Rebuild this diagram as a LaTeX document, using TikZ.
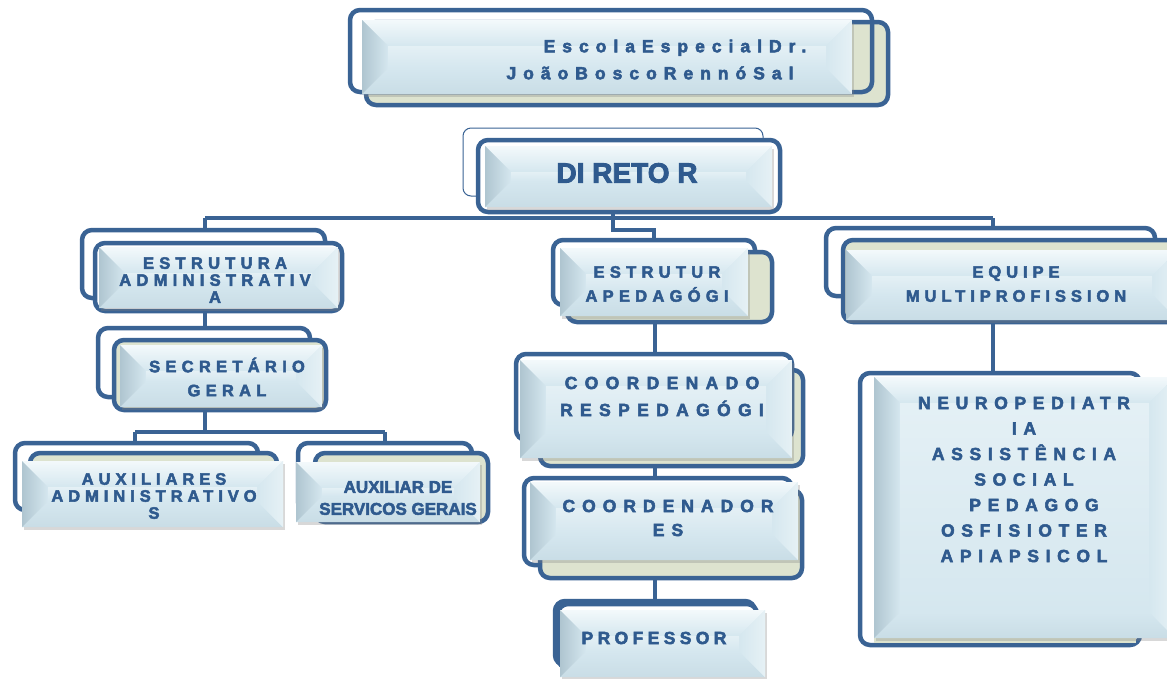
\documentclass[tikz,border=0pt]{standalone}
\usepackage{fontspec}
\setmainfont{Liberation Sans}
\usetikzlibrary{calc, shadows}
\definecolor{frameblue}{HTML}{3A6394}
\definecolor{txtblue}{HTML}{2F5A8E}
\definecolor{beige}{HTML}{DDE3CF}
\definecolor{bvmid}{HTML}{D5E7EF}
\definecolor{bvtop}{HTML}{F3F9FB}
\definecolor{bvleft}{HTML}{AFC5D0}
\definecolor{bvright}{HTML}{E6F1F5}
\definecolor{bvbot}{HTML}{C9DDE6}
\pgfdeclarelayer{backdrop}
\pgfdeclarelayer{wires}
\pgfsetlayers{backdrop,wires,main}
\newcommand{\lsp}[3]{\fontsize{#1}{#2}\selectfont\bfseries\addfontfeature{LetterSpace=#3,FakeBold=3}}
\tikzset{
  frame/.style={draw=frameblue, line width=4.5pt, rounded corners=10pt},
  thinframe/.style={draw=frameblue, line width=1pt, rounded corners=8pt},
  conn/.style={draw=frameblue, line width=4pt},
  bevel/.style={rectangle, inner sep=0pt, fill=bvmid,
    drop shadow={shadow xshift=2pt, shadow yshift=-3pt, opacity=.3},
    path picture={
      \coordinate (bA) at (path picture bounding box.north west);
      \coordinate (bB) at (path picture bounding box.north east);
      \coordinate (bC) at (path picture bounding box.south east);
      \coordinate (bD) at (path picture bounding box.south west);
      \shade[top color=bvtop, bottom color=bvmid] (bA) -- (bB) -- ($(bB)+(-26pt,-26pt)$) -- ($(bA)+(26pt,-26pt)$) -- cycle;
      \shade[top color=bvmid, bottom color=bvbot] (bD) -- (bC) -- ($(bC)+(-26pt,26pt)$) -- ($(bD)+(26pt,26pt)$) -- cycle;
      \shade[left color=bvleft, right color=bvmid] (bA) -- ($(bA)+(26pt,-26pt)$) -- ($(bD)+(26pt,26pt)$) -- (bD) -- cycle;
      \shade[left color=bvmid, right color=bvright] (bB) -- ($(bB)+(-26pt,-26pt)$) -- ($(bC)+(-26pt,26pt)$) -- (bC) -- cycle;
      \shade[top color=bvtop!50!bvmid, bottom color=bvmid] ($(bA)+(26pt,-26pt)$) rectangle ($(bC)+(-26pt,26pt)$);
    }},
  lbl/.style={text=txtblue, align=center, inner sep=0pt},
}
\begin{document}
\begin{tikzpicture}[x=1pt, y=-1pt]
\useasboundingbox (0,0) rectangle (1167,678);
\begin{pgfonlayer}{backdrop}
  \fill[white] (0,0) rectangle (1167,678);
\end{pgfonlayer}

% title
\draw[frame, fill=beige] (366,22) rectangle (888,105);
\draw[frame] (350,10) rectangle (872,92);
\node[bevel, minimum width=490, minimum height=74] (title) at (607,57) {};
\node[lbl, font=\lsp{17.5}{27}{40}] (ttitle) at (650,59.5) {\hspace*{50pt}EscolaEspecialDr.\\JoãoBoscoRennóSal};

% diretor
\draw[thinframe] (463,128) rectangle (763,196);
\draw[frame, fill=white] (478,140) rectangle (780,212);
\node[bevel, minimum width=287, minimum height=61] (dir) at (628.5,176.5) {};
\node[lbl, font=\lsp{28}{30}{0}] (tdir) at (627,173) {DI RETO R};

% estrutura administrativa
\draw[frame, fill=white] (82,230) rectangle (325,298);
\draw[frame, fill=white] (95,243) rectangle (342,311);
\node[bevel, minimum width=239, minimum height=61] (adm) at (218.5,277.5) {};
\node[lbl, font=\lsp{16.5}{17}{32}] (tadm) at (215,280) {ESTRUTURA\\ADMINISTRATIV\\A};

% estrutura pedagogica
\draw[frame, fill=white] (553,240) rectangle (755,305);
\draw[frame, fill=beige] (567,252) rectangle (772,322);
\node[bevel, minimum width=188, minimum height=68] (ped) at (654,282) {};
\node[lbl, font=\lsp{16.5}{24}{32}] (tped) at (657,284) {ESTRUTUR\\APEDAGÓGI};

% equipe
\draw[frame, fill=white] (826,228) rectangle (1155,296);
\draw[frame, fill=beige] (843,240) rectangle (1190,322);
\node[bevel, minimum width=332, minimum height=70] (equ) at (1012,285) {};
\node[lbl, font=\lsp{16.5}{24}{30}] (tequ) at (1016,284) {EQUIPE\\MULTIPROFISSION};

% secretario
\draw[frame, fill=white] (98,328) rectangle (310,397);
\draw[frame, fill=beige] (114,340) rectangle (326,410);
\node[bevel, minimum width=202, minimum height=62] (sec) at (221,376) {};
\node[lbl, font=\lsp{16.5}{24}{32}] (tsec) at (227,377) {SECRETÁRIO\\GERAL};

% auxiliares
\draw[frame, fill=white] (15,443) rectangle (258,510);
\draw[frame, fill=beige] (30,453) rectangle (277,520);
\node[bevel, minimum width=261, minimum height=66] (auxa) at (152.5,494) {};
\node[lbl, font=\lsp{16.5}{17}{30}] (tauxa) at (154,496) {AUXILIARES\\ADMINISTRATIVO\\S};

\draw[frame, fill=white] (298,443) rectangle (472,512);
\draw[frame, fill=beige] (315,453) rectangle (488,522);
\node[bevel, minimum width=184, minimum height=60] (auxs) at (388,492) {};
\node[lbl, font=\lsp{17}{22}{0}] (tauxs) at (398,498) {AUXILIAR DE\\SERVICOS GERAIS};

% coordenadores
\draw[frame, fill=beige] (540,370) rectangle (803,466);
\draw[frame, fill=white] (516,354) rectangle (792,440);
\node[bevel, minimum width=272, minimum height=98] (cped) at (656,409) {};
\node[lbl, font=\lsp{17.5}{27}{42}] (tcped) at (662,396.5) {COORDENADO\\RESPEDAGÓGI};

\draw[frame, fill=white] (524,478) rectangle (792,565);
\draw[frame, fill=beige] (540,490) rectangle (802,578);
\node[bevel, minimum width=268, minimum height=78] (cdes) at (664,521) {};
\node[lbl, font=\lsp{17.5}{24}{40}] (tcdes) at (668,518) {COORDENADOR\\ES};

% professor
\draw[frame, fill=white] (555,601) rectangle (755,665);
\draw[frame, fill=white] (558,604) rectangle (757,668);
\node[bevel, minimum width=205, minimum height=67] (prof) at (662.5,643.5) {};
\node[lbl, font=\lsp{17.5}{20}{25}] (tprof) at (654,638) {PROFESSOR};

% multiprofissional
\draw[frame, fill=white] (860,373) rectangle (1140,645);
\fill[beige] (874,630) rectangle (1136,643);
\node[bevel, minimum width=301, minimum height=261] (neu) at (1024.5,507.5) {};
\node[lbl, font=\lsp{17.5}{25.5}{38}] (tneu) at (1024,479.5) {NEUROPEDIATR\\IA\\ASSISTÊNCIA\\SOCIAL\\\hspace*{20pt}PEDAGOG\\OSFISIOTER\\APIAPSICOL};

\begin{pgfonlayer}{wires}
  \coordinate (hub) at (613,218);
  \coordinate (busL) at (205,218);
  \coordinate (busR) at (993,218);
  \coordinate (bus2L) at (135,432);
  \coordinate (bus2R) at (385,432);
  \draw[conn] (busL) -- (busR);
  \draw[conn] (dir.south -| hub) -- (hub) -- ++(0,12) -| (ped.north);
  \draw[conn] (busL) -- (busL |- adm.north);
  \draw[conn] (busR) -- (busR |- equ.north);
  \draw[conn] (adm.south -| busL) -- (busL |- sec.north);
  \draw[conn] (sec.south -| busL) -- (busL |- bus2L);
  \draw[conn] (bus2L) -- (bus2R);
  \draw[conn] (bus2L) -- (bus2L |- auxa.north);
  \draw[conn] (bus2R) -- (bus2R |- auxs.north);
  \draw[conn] (ped.south -| 655,0) -- (cped.north -| 655,0);
  \draw[conn] (cped.south -| 655,0) -- (cdes.north -| 655,0);
  \draw[conn] (cdes.south -| 655,0) -- (prof.north -| 655,0);
  \draw[conn] (equ.south -| busR) -- (neu.north -| busR);
\end{pgfonlayer}
\end{tikzpicture}
\end{document}
